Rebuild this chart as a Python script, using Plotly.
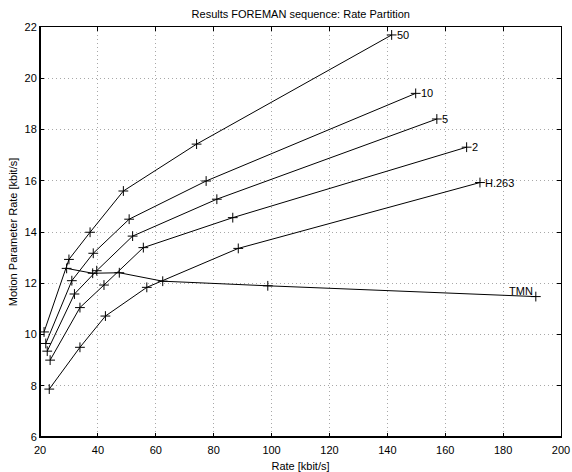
import plotly.graph_objects as go

# Rate partition data for the FOREMAN sequence: total rate vs. motion parameter rate
series_names = ["50", "10", "5", "2", "H.263", "TMN"]

rate_50 = [21.4, 30.0, 37.3, 48.8, 74.1, 141.5]
motion_50 = [10.1, 12.93, 13.99, 15.6, 17.43, 21.69]

rate_10 = [22.0, 31.0, 38.4, 50.8, 77.4, 149.8]
motion_10 = [9.65, 12.1, 13.17, 14.5, 15.99, 19.41]

rate_5 = [22.5, 31.9, 39.6, 52.0, 81.1, 157.1]
motion_5 = [9.35, 11.58, 12.49, 13.84, 15.28, 18.41]

rate_2 = [23.5, 33.8, 42.1, 55.7, 86.6, 167.4]
motion_2 = [9.0, 11.05, 11.93, 13.39, 14.56, 17.31]

rate_h263 = [23.2, 33.8, 42.6, 56.9, 88.5, 172.0]
motion_h263 = [7.87, 9.5, 10.72, 11.84, 13.36, 15.93]

rate_tmn = [29.2, 38.2, 47.4, 62.4, 98.7, 191.3]
motion_tmn = [12.58, 12.39, 12.41, 12.08, 11.9, 11.48]

x_ticks = [20, 40, 60, 80, 100, 120, 140, 160, 180, 200]
y_ticks = [6, 8, 10, 12, 14, 16, 18, 20, 22]

all_rates = [rate_50, rate_10, rate_5, rate_2, rate_h263, rate_tmn]
all_motion = [motion_50, motion_10, motion_5, motion_2, motion_h263, motion_tmn]

FONT = "Liberation Sans, Arial, Helvetica, sans-serif"

fig = go.Figure()
for name, xs, ys in zip(series_names, all_rates, all_motion):
    fig.add_trace(go.Scatter(
        x=xs, y=ys, name=name, mode="lines+markers",
        line=dict(color="black", width=1),
        marker=dict(symbol="cross-thin", size=7,
                    line=dict(color="black", width=1)),
        showlegend=False,
    ))

# End-of-curve labels
for name, xs, ys in zip(series_names, all_rates, all_motion):
    if name == "TMN":
        fig.add_annotation(x=xs[-1], y=ys[-1], text=name, showarrow=False,
                           xanchor="right", yanchor="bottom",
                           xshift=-1, yshift=-2,
                           font=dict(family=FONT, size=11, color="black"))
    else:
        fig.add_annotation(x=xs[-1], y=ys[-1], text=name, showarrow=False,
                           xanchor="left", yanchor="middle", xshift=3,
                           font=dict(family=FONT, size=11, color="black"))

axis_common = dict(
    showline=True, linecolor="black", linewidth=1, mirror="allticks",
    ticks="inside", ticklen=4, tickcolor="black", tickwidth=1,
    showgrid=True, gridcolor="#a8a8a8", griddash="1px,3px", gridwidth=1,
    zeroline=False, automargin=False,
    tickfont=dict(family=FONT, size=11, color="black"),
)

fig.update_xaxes(range=[20, 200], tickvals=x_ticks, ticklabelstandoff=3,
                 title=dict(text="Rate [kbit/s]", standoff=8,
                            font=dict(family=FONT, size=11, color="black")),
                 **axis_common)
fig.update_yaxes(range=[6, 22], tickvals=y_ticks,
                 title=dict(text="Motion Parameter Rate [kbit/s]", standoff=4,
                            font=dict(family=FONT, size=11, color="black")),
                 **axis_common)

# Heavier left and bottom axis lines
fig.add_shape(type="line", xref="paper", yref="paper", x0=0, x1=0, y0=0, y1=1,
              line=dict(color="black", width=2))
fig.add_shape(type="line", xref="paper", yref="paper", x0=0, x1=1, y0=0, y1=0,
              line=dict(color="black", width=2))

fig.update_layout(
    width=572, height=472,
    margin=dict(l=40, r=11, t=27, b=35, autoexpand=False),
    paper_bgcolor="white", plot_bgcolor="white",
    title=dict(text="Results FOREMAN sequence: Rate Partition",
               x=0.5258, xanchor="center", y=0.969, yanchor="middle",
               font=dict(family=FONT, size=11, color="black")),
)

fig.write_html("out.html")
